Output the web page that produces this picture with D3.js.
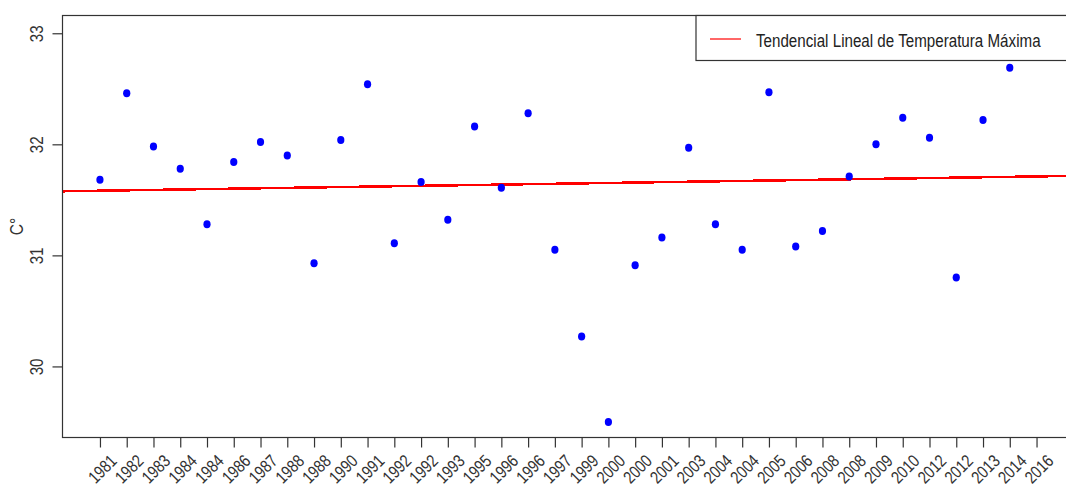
<!DOCTYPE html>
<html>
<head>
<meta charset="utf-8">
<script src="https://cdn.jsdelivr.net/npm/d3@7"></script>
<style>
  html, body { margin: 0; padding: 0; background: #fff; }
  svg { display: block; font-family: "Liberation Sans", Arial, sans-serif; }
</style>
</head>
<body>
<svg id="chart" width="1066" height="487"></svg>
<script>
// ---- data ----
const yearLabels = ["1981","1982","1983","1984","1984","1986","1987","1988","1988","1990",
  "1991","1992","1992","1993","1995","1996","1996","1997","1999","2000",
  "2000","2001","2003","2004","2004","2005","2006","2008","2008","2009",
  "2010","2012","2012","2013","2014","2016"];
const tempMax = [31.68, 32.46, 31.98, 31.78, 31.28, 31.84, 32.02, 31.90, 30.93, 32.04,
  32.54, 31.11, 31.66, 31.32, 32.16, 31.61, 32.28, 31.05, 30.27, 29.50,
  30.91, 31.16, 31.97, 31.28, 31.05, 32.47, 31.08, 31.22, 31.71, 32.00,
  32.24, 32.06, 30.80, 32.22, 32.69];
const yTicks = [30, 31, 32, 33];
const trendEnds = [31.577, 31.716]; // trend values at the left and right plot limits
const legendLabel = "Tendencial Lineal de Temperatura Máxima";
const yTitle = "C°";

// ---- layout ----
const svg = d3.select("#chart");
const pLeft = 62.5, pRight = 1074, pTop = 15.5, pBottom = 437.5;
const xDomain = [-0.4, 37.4];
const x = d3.scaleLinear().domain(xDomain).range([pLeft, pRight]);
const y = d3.scaleLinear().domain([29.36, 33.16]).range([pBottom, pTop]);
const ink = "#333";
const fontFam = "'Liberation Sans', Arial, sans-serif";
const narrow = "scale(0.82,1)"; // emulate a narrow sans face

// trend line
svg.append("line")
  .attr("x1", x(xDomain[0])).attr("y1", y(trendEnds[0]))
  .attr("x2", x(xDomain[1])).attr("y2", y(trendEnds[1]))
  .attr("stroke", "#ff0000").attr("stroke-width", 2.5)
  .attr("shape-rendering", "crispEdges");

// points
svg.append("g").selectAll("ellipse").data(tempMax).join("ellipse")
  .attr("cx", (d, i) => x(i + 1))
  .attr("cy", d => y(d))
  .attr("rx", 3.6).attr("ry", 4)
  .attr("fill", "#0000ff");

// plot box (right side beyond view)
svg.append("rect")
  .attr("x", pLeft).attr("y", pTop)
  .attr("width", pRight - pLeft).attr("height", pBottom - pTop)
  .attr("fill", "none").attr("stroke", ink).attr("stroke-width", 1.2);

// y axis
const yAxis = d3.axisLeft(y).tickValues(yTicks).tickSize(10).tickFormat(d3.format("d"));
const gy = svg.append("g").attr("transform", `translate(${pLeft},0)`).call(yAxis);
gy.select(".domain").remove();
gy.selectAll(".tick line").attr("stroke", ink).attr("stroke-width", 1.2);
gy.selectAll(".tick text")
  .attr("x", 0).attr("dy", null).attr("y", 0)
  .attr("text-anchor", "middle")
  .attr("transform", `translate(-20,0) rotate(-90) ${narrow}`)
  .attr("font-size", 18.5).attr("fill", ink)
  .style("font-family", fontFam);

// y title
svg.append("text")
  .attr("transform", `translate(23,${(pTop + pBottom) / 2}) rotate(-90) ${narrow}`)
  .attr("text-anchor", "middle")
  .attr("font-size", 19).attr("fill", ink)
  .style("font-family", fontFam)
  .text(yTitle);

// x axis
const xIdx = d3.range(1, yearLabels.length + 1);
const xAxis = d3.axisBottom(x).tickValues(xIdx).tickSize(10).tickFormat(() => "");
const gx = svg.append("g").attr("transform", `translate(0,${pBottom})`).call(xAxis);
gx.select(".domain").remove();
gx.selectAll(".tick line").attr("stroke", ink).attr("stroke-width", 1.2);

svg.append("g").selectAll("text").data(yearLabels).join("text")
  .attr("transform", (d, i) => `translate(${x(i + 1) + 18},462) rotate(-45) ${narrow}`)
  .attr("text-anchor", "end")
  .attr("font-size", 17.5).attr("fill", ink)
  .style("font-family", fontFam)
  .text(d => d);

// legend
const lg = svg.append("g");
lg.append("rect")
  .attr("x", 696).attr("y", pTop).attr("width", 420).attr("height", 45)
  .attr("fill", "#fff").attr("stroke", ink).attr("stroke-width", 1.2);
lg.append("line")
  .attr("x1", 710).attr("x2", 741).attr("y1", 39).attr("y2", 39)
  .attr("stroke", "#ff0000").attr("stroke-width", 1.2);
lg.append("text")
  .attr("transform", `translate(756,46.5) ${narrow}`)
  .attr("font-size", 18.5).attr("fill", "#222")
  .style("font-family", fontFam)
  .text(legendLabel);
</script>
</body>
</html>
